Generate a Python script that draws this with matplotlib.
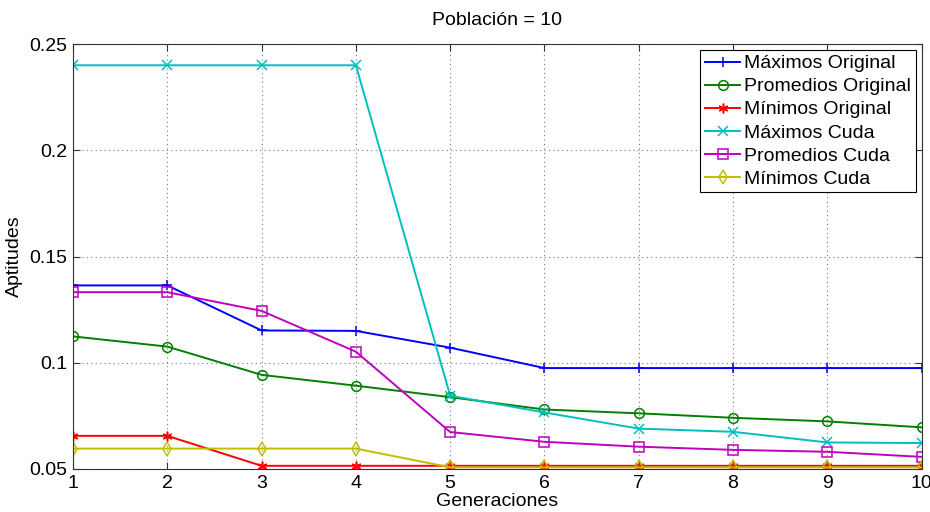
import numpy as np
import matplotlib
matplotlib.use("Agg")
import matplotlib.pyplot as plt

plt.rcParams["font.family"] = ["Liberation Sans", "DejaVu Sans"]

# ── Data ────────────────────────────────────────────────────────────────────
generaciones = [1, 2, 3, 4, 5, 6, 7, 8, 9, 10]

max_original = [0.1364, 0.1364, 0.1152, 0.1150, 0.1071, 0.0975, 0.0975, 0.0975, 0.0975, 0.0975]
prom_original = [0.1124, 0.1076, 0.0943, 0.0892, 0.0838, 0.0780, 0.0762, 0.0741, 0.0724, 0.0696]
min_original = [0.0656, 0.0656, 0.0515, 0.0515, 0.0515, 0.0515, 0.0515, 0.0515, 0.0515, 0.0515]
max_cuda = [0.2400, 0.2400, 0.2400, 0.2400, 0.0845, 0.0766, 0.0690, 0.0675, 0.0625, 0.0622]
prom_cuda = [0.1332, 0.1332, 0.1244, 0.1052, 0.0674, 0.0628, 0.0605, 0.0590, 0.0581, 0.0557]
min_cuda = [0.0596, 0.0596, 0.0596, 0.0596, 0.0508, 0.0508, 0.0508, 0.0508, 0.0508, 0.0508]

series = [
    (max_original, "Máximos Original", "#0000ff", "+"),
    (prom_original, "Promedios Original", "#008000", "o"),
    (min_original, "Mínimos Original", "#ff0000", (6, 2, 0)),
    (max_cuda, "Máximos Cuda", "#00bfbf", "x"),
    (prom_cuda, "Promedios Cuda", "#bf00bf", "s"),
    (min_cuda, "Mínimos Cuda", "#bfbf00", "d"),
]

# ── Figure ──────────────────────────────────────────────────────────────────
fig = plt.figure(figsize=(9.3, 5.12), dpi=100)
ax = fig.add_axes([0.0785, 0.084, 0.9125, 0.830])

for vals, label, color, mk in series:
    ax.plot(generaciones, vals, color=color, marker=mk, markersize=7,
            markerfacecolor="none", markeredgecolor=color, markeredgewidth=1.1,
            lw=1.4, label=label)

ax.set_xlim(1, 10)
ax.set_ylim(0.05, 0.25)
ax.set_xticks(generaciones)
ax.set_yticks([0.05, 0.1, 0.15, 0.2, 0.25])
ax.set_yticklabels(["0.05", "0.1", "0.15", "0.2", "0.25"])
ax.tick_params(direction="in", labelsize=14, length=5, top=True, right=True,
               color="#333333", pad=4)
ax.grid(True, ls=(0, (1, 3)), color="#777777", lw=0.8)
for sp in ax.spines.values():
    sp.set_color("#333333")

ax.set_xlabel("Generaciones", fontsize=14, labelpad=1)
ax.set_ylabel("Aptitudes", fontsize=14, labelpad=5)
ax.set_title("Población = 10", fontsize=14, pad=14)

leg = ax.legend(loc="upper right", fontsize=14, handlelength=1.8,
                handletextpad=0.2, labelspacing=0.28, borderaxespad=0.3,
                borderpad=0.25, fancybox=False, framealpha=1)
leg.get_frame().set_edgecolor("black")
leg.get_frame().set_linewidth(0.8)

fig.savefig("out.png", dpi=100)
